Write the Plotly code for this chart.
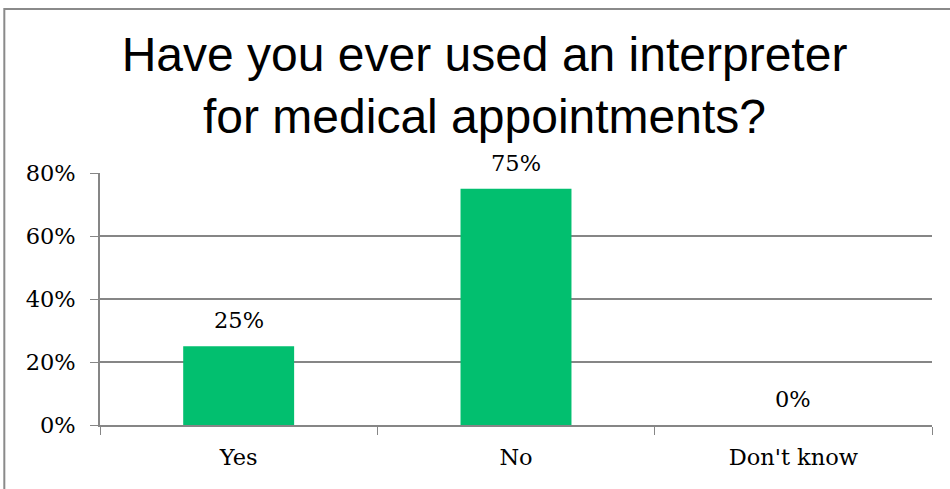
import plotly.graph_objects as go

TITLE = "Have you ever used an interpreter<br>for medical appointments?"
categories = ["Yes", "No", "Don't know"]
shares = [0.25, 0.75, 0.0]
y_ticks = [0, 0.2, 0.4, 0.6, 0.8]

GRID = "#868686"
BAR = "#02BF6F"
SERIF = "DejaVu Serif"
TICK_SIZE = 22.5

fig = go.Figure()
fig.add_trace(go.Bar(x=categories, y=shares, marker=dict(color=BAR, line=dict(width=0)),
                     cliponaxis=False))

# data labels sit a bit higher than plotly's built-in outside text
for cat, val in zip(categories, shares):
    fig.add_annotation(x=cat, y=val, text=f"{val:.0%}", showarrow=False,
                       yanchor="bottom", yshift=11,
                       font=dict(family=SERIF, size=TICK_SIZE, color="black"))

# chart frame
fig.add_shape(type="rect", xref="paper", yref="paper",
              x0=-0.115, x1=1.05, y0=-0.3, y1=1.651,
              line=dict(color="#8a8a8a", width=2), layer="below")

fig.update_layout(
    width=950, height=489,
    margin=dict(l=100, r=18, t=173, b=64),
    paper_bgcolor="white", plot_bgcolor="white",
    showlegend=False, bargap=0.6,
    title=dict(text=TITLE, x=0.51, xanchor="center", xref="container",
               y=1 - 71 / 489, yanchor="top", yref="container",
               font=dict(family="Liberation Sans", size=48, color="black")),
    xaxis=dict(showline=True, linecolor=GRID, linewidth=1.5,
               ticks="outside", tickson="boundaries", ticklen=8, tickcolor=GRID,
               ticklabelstandoff=11,
               tickfont=dict(family=SERIF, size=TICK_SIZE, color="black"), showgrid=False),
    yaxis=dict(range=[0, 0.8], tickvals=y_ticks, tickformat=".0%",
               showline=True, linecolor=GRID, linewidth=1.5,
               ticks="outside", ticklen=8, tickcolor=GRID,
               showgrid=True, gridcolor=GRID, gridwidth=1.5, zeroline=False,
               ticklabelstandoff=10,
               tickfont=dict(family=SERIF, size=TICK_SIZE, color="black")),
)

fig.write_html("out.html", config={"displayModeBar": False},
               post_script="document.body.style.margin='0';")
